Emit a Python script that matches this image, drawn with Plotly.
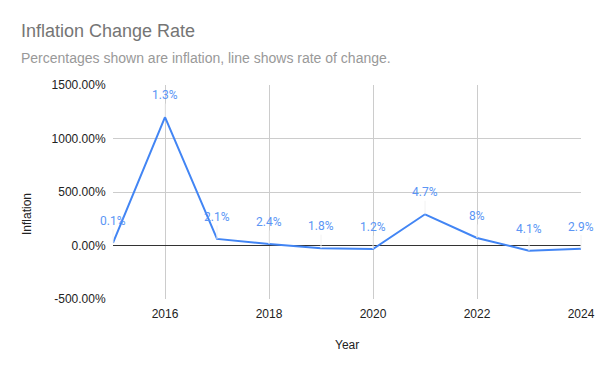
import plotly.graph_objects as go

years = [2015, 2016, 2017, 2018, 2019, 2020, 2021, 2022, 2023, 2024]
change_rate = [25, 1200, 61.5, 14.3, -25, -33.3, 291.7, 70.2, -48.8, -29.3]
inflation_labels = ["0.1%", "1.3%", "2.1%", "2.4%", "1.8%", "1.2%", "4.7%", "8%", "4.1%", "2.9%"]
y_ticks = [-500, 0, 500, 1000, 1500]
y_tick_text = ["-500.00%", "0.00%", "500.00%", "1000.00%", "1500.00%"]
x_ticks = [2016, 2018, 2020, 2022, 2024]

fig = go.Figure()
fig.add_trace(go.Scatter(
    x=years, y=change_rate, mode="lines",
    line=dict(color="#4285F4", width=2),
    hoverinfo="skip", showlegend=False,
))

for x, y, t in zip(years, change_rate, inflation_labels):
    fig.add_annotation(
        x=x, y=y, text=t, showarrow=True, ax=0, ay=-22,
        arrowhead=0, arrowwidth=1, arrowcolor="#f2f2f2", standoff=0,
        font=dict(family="Roboto", size=12, color="#5b95f5"),
    )

# title, subtitle, axis titles
fig.add_annotation(xref="paper", yref="paper", x=(19-113)/468, y=1+(85-31)/214,
                   xanchor="left", yanchor="middle", showarrow=False,
                   text="Inflation Change Rate",
                   font=dict(family="Liberation Sans, Arial", size=18, color="#757575"))
fig.add_annotation(xref="paper", yref="paper", x=(19-113)/468, y=1+(85-58)/214,
                   xanchor="left", yanchor="middle", showarrow=False,
                   text="Percentages shown are inflation, line shows rate of change.",
                   font=dict(family="Liberation Sans, Arial", size=14, color="#999999"))
fig.add_annotation(xref="paper", yref="paper", x=(347-113)/468, y=-(345-299)/214,
                   xanchor="center", yanchor="middle", showarrow=False,
                   text="Year", font=dict(family="Liberation Sans, Arial", size=12, color="#222222"))
fig.add_annotation(xref="paper", yref="paper", x=-(113-27)/468, y=(299-214)/214,
                   xanchor="center", yanchor="middle", showarrow=False, textangle=-90,
                   text="Inflation", font=dict(family="Liberation Sans, Arial", size=12, color="#222222"))

fig.update_layout(
    width=600, height=371,
    margin=dict(l=113, r=19, t=85, b=72, pad=0),
    paper_bgcolor="white", plot_bgcolor="white",
    font=dict(family="Liberation Sans, Arial", color="#222222", size=12),
    xaxis=dict(
        range=[2015, 2024], tickvals=x_ticks, ticktext=[str(v) for v in x_ticks],
        showgrid=True, gridcolor="#cccccc", gridwidth=1, automargin=False,
        zeroline=False, showline=False, ticks="outside", ticklen=4, tickcolor="rgba(0,0,0,0)",
    ),
    yaxis=dict(
        range=[-500, 1500], tickvals=y_ticks, ticktext=y_tick_text,
        showgrid=True, gridcolor="#cccccc", gridwidth=1, automargin=False,
        zeroline=True, zerolinecolor="#333333", zerolinewidth=1,
        showline=False, ticks="outside", ticklen=4, tickcolor="rgba(0,0,0,0)",
    ),
)

fig.write_html(
    "out.html",
    config={"displayModeBar": False, "responsive": False},
    post_script="document.body.style.margin='0';document.body.style.overflow='hidden';",
)
